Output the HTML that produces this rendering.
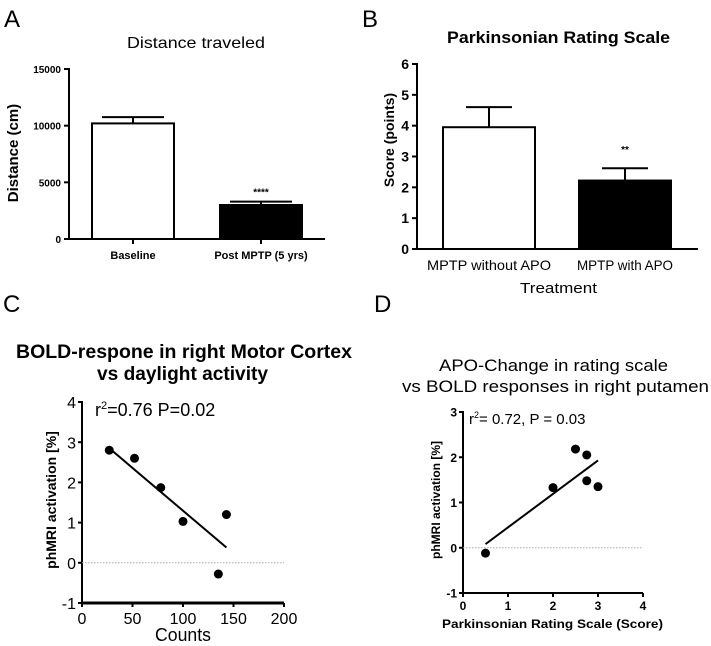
<!DOCTYPE html>
<html><head><meta charset="utf-8">
<style>
html,body{margin:0;padding:0;background:#fff;}
svg{display:block;font-family:"Liberation Sans",sans-serif;}
</style></head>
<body>
<svg id="fig" width="711" height="646" viewBox="0 0 711 646" xmlns="http://www.w3.org/2000/svg">
<g id="gA"></g>
<g id="gB"></g>
<g id="gC"></g>
<g id="gD"></g>
</svg>
<script>
const aCats=["Baseline","Post MPTP (5 yrs)"];
const aVals=[10200,3000];
const aErr=[10750,3300];
const aTicks=[0,5000,10000,15000];
const bCats=["MPTP without APO","MPTP with APO"];
const bVals=[3.95,2.22];
const bErr=[4.6,2.62];
const bTicks=[0,1,2,3,4,5,6];
const cX=[27,52,78,100,143,135];
const cY=[2.8,2.6,1.87,1.03,1.2,-0.28];
const cFitX=[27,143];
const cFitY=[2.85,0.38];
const cXTicks=[0,50,100,150,200];
const cYTicks=[-1,0,1,2,3,4];
const dX=[0.5,2,2.5,2.75,2.75,3];
const dY=[-0.12,1.33,2.18,2.05,1.48,1.35];
const dFitX=[0.5,3];
const dFitY=[0.08,1.93];
const dXTicks=[0,1,2,3,4];
const dYTicks=[-1,0,1,2,3];

const NS="http://www.w3.org/2000/svg";
function mk(p,tag,attrs,txt){const e=document.createElementNS(NS,tag);for(const k in attrs)e.setAttribute(k,attrs[k]);if(txt!==undefined)e.textContent=txt;p.appendChild(e);return e;}
function lin(d0,d1,r0,r1){return v=>r0+(v-d0)*(r1-r0)/(d1-d0);}
function fit(e,len){e.setAttribute('textLength',len);e.setAttribute('lengthAdjust','spacingAndGlyphs');return e;}

// Panel A
(function(){
const g=document.getElementById('gA');
const y=lin(0,15000,239,69);
let t=mk(g,'text',{x:4,y:27,'font-size':24},'A');

t=fit(mk(g,'text',{x:127,y:48,'font-size':16},'Distance traveled'),138);

t=mk(g,'text',{x:0,y:0,'font-size':15,'font-weight':'bold','text-anchor':'middle',transform:'translate(18,153) rotate(-90)'},'Distance (cm)');

mk(g,'line',{x1:69,y1:68,x2:69,y2:240,stroke:'#000','stroke-width':2});
mk(g,'line',{x1:68,y1:239,x2:325,y2:239,stroke:'#000','stroke-width':2});
aTicks.forEach(v=>{mk(g,'line',{x1:64,x2:69,y1:y(v),y2:y(v),stroke:'#000','stroke-width':2});
 const tt=mk(g,'text',{x:61,y:y(v)+4,'font-size':10,'font-weight':'bold','text-anchor':'end'},v);
 });
const xs=[133,261],w=82;
aCats.forEach((c,i)=>{
 mk(g,'line',{x1:xs[i],x2:xs[i],y1:y(aVals[i]),y2:y(aErr[i]),stroke:'#000','stroke-width':2});
 mk(g,'line',{x1:xs[i]-31,x2:xs[i]+31,y1:y(aErr[i]),y2:y(aErr[i]),stroke:'#000','stroke-width':2});
 const r=mk(g,'rect',{x:xs[i]-w/2,y:y(aVals[i]),width:w,height:239-y(aVals[i]),fill:i?'#000':'#fff',stroke:'#000','stroke-width':2});
 
 mk(g,'line',{x1:xs[i],x2:xs[i],y1:239,y2:244,stroke:'#000','stroke-width':2});
 const tt=mk(g,'text',{x:xs[i],y:259,'font-size':11,'font-weight':'bold','text-anchor':'middle'},c);
 
});
t=mk(g,'text',{x:261,y:y(aErr[1])-6,'font-size':10,'font-weight':'bold','text-anchor':'middle'},'****');

})();

// Panel B
(function(){
const g=document.getElementById('gB');
const y=lin(0,6,249,64);
let t=mk(g,'text',{x:362,y:27,'font-size':24},'B');

t=fit(mk(g,'text',{x:447,y:43,'font-size':17,'font-weight':'bold'},'Parkinsonian Rating Scale'),223);

t=mk(g,'text',{x:0,y:0,'font-size':14,'font-weight':'bold','text-anchor':'middle',transform:'translate(394,140) rotate(-90)'},'Score (points)');

mk(g,'line',{x1:417,y1:63,x2:417,y2:250,stroke:'#000','stroke-width':2});
mk(g,'line',{x1:416,y1:249,x2:698,y2:249,stroke:'#000','stroke-width':2});
bTicks.forEach(v=>{mk(g,'line',{x1:412,x2:417,y1:y(v),y2:y(v),stroke:'#000','stroke-width':2});
 const tt=mk(g,'text',{x:409,y:y(v)+5,'font-size':14,'font-weight':'bold','text-anchor':'end'},v);
 });
const xs=[489,625],w=92;
bCats.forEach((c,i)=>{
 mk(g,'line',{x1:xs[i],x2:xs[i],y1:y(bVals[i]),y2:y(bErr[i]),stroke:'#000','stroke-width':2});
 mk(g,'line',{x1:xs[i]-23,x2:xs[i]+23,y1:y(bErr[i]),y2:y(bErr[i]),stroke:'#000','stroke-width':2});
 const r=mk(g,'rect',{x:xs[i]-w/2,y:y(bVals[i]),width:w,height:249-y(bVals[i]),fill:i?'#000':'#fff',stroke:'#000','stroke-width':2});
 
 const tt=mk(g,'text',{x:xs[i],y:270,'font-size':14,'text-anchor':'middle'},c);
 fit(tt,i?96:124);
 
});
t=mk(g,'text',{x:625,y:y(bErr[1])-15,'font-size':10,'font-weight':'bold','text-anchor':'middle'},'**');

t=fit(mk(g,'text',{x:520,y:293,'font-size':15},'Treatment'),77);

})();

function scatter(g,o){
 const x=lin(o.xd[0],o.xd[1],o.x0,o.x1), y=lin(o.yd[0],o.yd[1],o.y0,o.y1);
 mk(g,'line',{x1:o.x0,y1:o.y1-1,x2:o.x0,y2:o.y0+1,stroke:'#000','stroke-width':2});
 mk(g,'line',{x1:o.x0-1,y1:o.y0,x2:o.x1,y2:o.y0,stroke:'#000','stroke-width':o.xw});
 mk(g,'line',{x1:o.x0,y1:y(0),x2:o.x1,y2:y(0),stroke:'#aaa','stroke-width':1,'stroke-dasharray':'1.5,1.5'});
 o.yt.forEach(v=>{mk(g,'line',{x1:o.x0-4,x2:o.x0,y1:y(v),y2:y(v),stroke:'#000','stroke-width':2});
  const tt=mk(g,'text',{x:o.x0-6,y:y(v)+o.tfs*0.38,'font-size':o.tfs,'text-anchor':'end','font-weight':o.tw},v);
  });
 o.xt.forEach(v=>{mk(g,'line',{x1:x(v),x2:x(v),y1:o.y0,y2:o.y0+4,stroke:'#000','stroke-width':2});
  const tt=mk(g,'text',{x:x(v),y:o.y0+o.tfs+5,'font-size':o.tfs,'text-anchor':'middle','font-weight':o.tw},v);
  });
 const l=mk(g,'line',{x1:x(o.fx[0]),y1:y(o.fy[0]),x2:x(o.fx[1]),y2:y(o.fy[1]),stroke:'#000','stroke-width':2});
 
 o.px.forEach((v,i)=>{const c=mk(g,'circle',{cx:x(v),cy:y(o.py[i]),r:4.5,fill:'#000'});
  });
}

// Panel C
(function(){
const g=document.getElementById('gC');
let t=mk(g,'text',{x:3,y:312,'font-size':24},'C');

t=fit(mk(g,'text',{x:16,y:358,'font-size':19,'font-weight':'bold'},'BOLD-respone in right Motor Cortex'),336);

t=fit(mk(g,'text',{x:97,y:380,'font-size':19,'font-weight':'bold'},'vs daylight activity'),171);

t=mk(g,'text',{x:0,y:0,'font-size':14,'font-weight':'bold','text-anchor':'middle',transform:'translate(56,500) rotate(-90)'},'phMRI activation [%]');

scatter(g,{xd:[0,200],x0:82,x1:284,yd:[-1,4],y0:603,y1:402,xt:cXTicks,yt:cYTicks,fx:cFitX,fy:cFitY,px:cX,py:cY,tfs:16,tw:'normal',xw:3});
t=mk(g,'text',{x:95,y:416,'font-size':18});

t.innerHTML='r<tspan dy="-7" font-size="11">2</tspan><tspan dy="7">=0.76 P=0.02</tspan>';
t=fit(mk(g,'text',{x:155,y:641,'font-size':18},'Counts'),56);

})();

// Panel D
(function(){
const g=document.getElementById('gD');
let t=mk(g,'text',{x:374,y:312,'font-size':24},'D');

t=fit(mk(g,'text',{x:439,y:371,'font-size':17},'APO-Change in rating scale'),229);

t=fit(mk(g,'text',{x:402,y:392,'font-size':17},'vs BOLD responses in right putamen'),307);

t=mk(g,'text',{x:0,y:0,'font-size':12,'font-weight':'bold','text-anchor':'middle',transform:'translate(440,500) rotate(-90)'},'phMRI activation [%]');

scatter(g,{xd:[0,4],x0:463,x1:643,yd:[-1,3],y0:593,y1:412,xt:dXTicks,yt:dYTicks,fx:dFitX,fy:dFitY,px:dX,py:dY,tfs:12,tw:'bold',xw:2});
t=mk(g,'text',{x:469,y:424,'font-size':15});

t.innerHTML='r<tspan dy="-6" font-size="9">2</tspan><tspan dy="6">= 0.72, P = 0.03</tspan>';
t=fit(mk(g,'text',{x:442,y:628,'font-size':12,'font-weight':'bold'},'Parkinsonian Rating Scale  (Score)'),221);

})();
</script>
</body></html>
